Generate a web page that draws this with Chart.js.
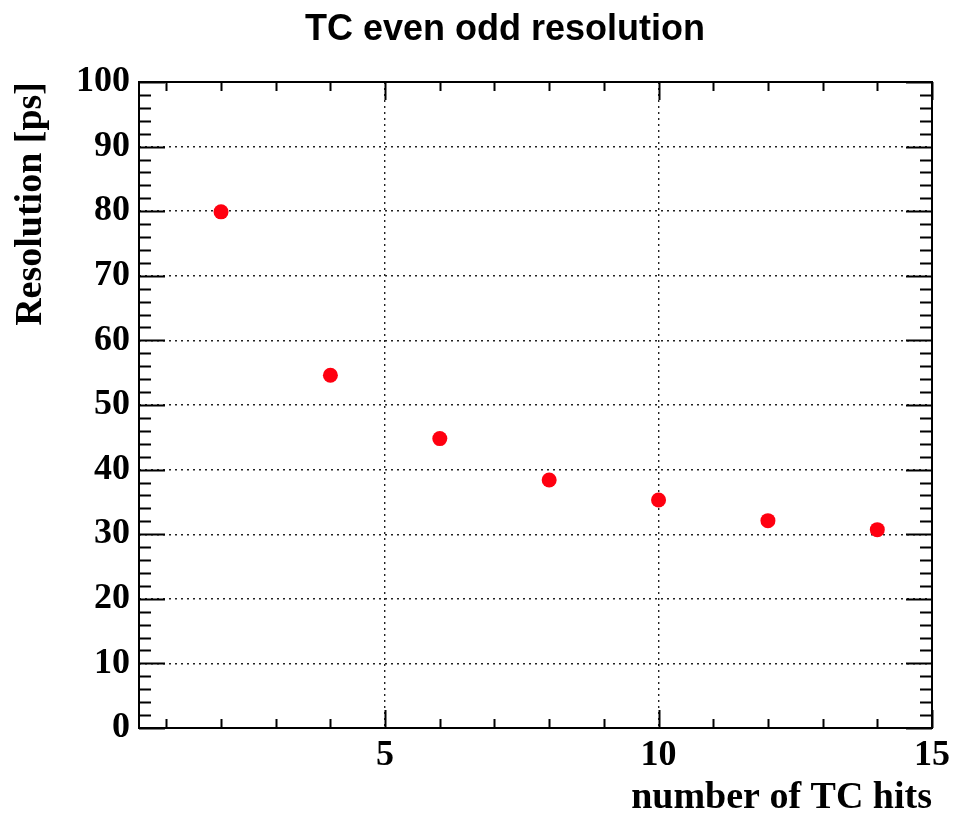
<!DOCTYPE html>
<html>
<head>
<meta charset="utf-8">
<title>TC even odd resolution</title>
<script src="https://cdn.jsdelivr.net/npm/chart.js@4.4.1/dist/chart.umd.min.js"></script>
<style>
  html, body { margin: 0; padding: 0; background: #fff; }
  #wrap { position: relative; width: 957px; height: 813px; }
</style>
</head>
<body>
<div id="wrap"><canvas id="resChart" width="957" height="813"></canvas></div>
<script>
// resolution vs number of TC hits
const nHits = [2, 4, 6, 8, 10, 12, 14];
const resolutionPs = [79.9, 54.6, 44.8, 38.4, 35.3, 32.1, 30.7];
const xTickValues = [5, 10, 15];
const yTickValues = [0, 10, 20, 30, 40, 50, 60, 70, 80, 90, 100];
const plotTitle = 'TC even odd resolution';

const serifBold = { family: '"Liberation Serif", "Times New Roman", serif', weight: 'bold' };

// ROOT-like frame: box plus inward ticks on all four sides, and the title
const rootFrame = {
  id: 'rootFrame',
  afterDraw(chart) {
    const { ctx, chartArea: a, scales: { x, y } } = chart;
    ctx.save();
    ctx.strokeStyle = '#000';
    ctx.lineWidth = 2;
    ctx.strokeRect(a.left, a.top, a.right - a.left, a.bottom - a.top);

    ctx.beginPath();
    for (let v = 0; v <= 100; v += 2) {
      const py = Math.round(y.getPixelForValue(v)) + 0.5;
      const len = v % 10 === 0 ? 26 : 12;
      ctx.moveTo(a.left, py); ctx.lineTo(a.left + len, py);
      ctx.moveTo(a.right, py); ctx.lineTo(a.right - len, py);
    }
    for (let v = 1; v <= 15; v++) {
      const px = Math.round(x.getPixelForValue(v)) + 0.5;
      const len = v % 5 === 0 ? 18 : 9;
      ctx.moveTo(px, a.bottom); ctx.lineTo(px, a.bottom - len);
      ctx.moveTo(px, a.top); ctx.lineTo(px, a.top + len);
    }
    ctx.lineWidth = 2;
    ctx.stroke();

    ctx.fillStyle = '#000';
    ctx.font = 'bold 36px "Liberation Sans", Arial, sans-serif';
    ctx.textAlign = 'center';
    ctx.textBaseline = 'alphabetic';
    ctx.fillText(plotTitle, 505, 40);
    ctx.restore();
  }
};

new Chart(document.getElementById('resChart'), {
  type: 'scatter',
  data: {
    datasets: [{
      label: 'resolution',
      data: nHits.map((h, i) => ({ x: h, y: resolutionPs[i] })),
      backgroundColor: '#ff0010',
      borderWidth: 0,
      pointRadius: 7.5,
      pointHoverRadius: 7.5
    }]
  },
  options: {
    responsive: false,
    animation: false,
    layout: { padding: { top: 82, right: 25, bottom: 0, left: 0 } },
    plugins: { legend: { display: false }, tooltip: { enabled: false }, title: { display: false } },
    scales: {
      x: {
        type: 'linear',
        min: 0.5,
        max: 15,
        afterBuildTicks: s => { s.ticks = xTickValues.map(v => ({ value: v })); },
        afterFit: s => { s.height = 85; },
        grid: { color: '#222', lineWidth: 1.4, drawTicks: false },
        border: { display: false, dash: [2, 4] },
        ticks: {
          color: '#000',
          padding: 6,
          maxRotation: 0,
          autoSkip: false,
          font: { ...serifBold, size: 36 },
          callback: v => String(v)
        },
        title: {
          display: true,
          text: 'number of TC hits',
          align: 'end',
          color: '#000',
          padding: { top: 0, bottom: 0 },
          font: { ...serifBold, size: 38, lineHeight: 0.8 }
        }
      },
      y: {
        min: 0,
        max: 100,
        afterBuildTicks: s => { s.ticks = yTickValues.map(v => ({ value: v })); },
        afterFit: s => { s.width = 139; },
        grid: { color: '#222', lineWidth: 1.4, drawTicks: false },
        border: { display: false, dash: [2, 4] },
        ticks: {
          color: '#000',
          padding: 9,
          font: { ...serifBold, size: 36 },
          callback: v => String(v)
        },
        title: {
          display: true,
          text: 'Resolution [ps]',
          align: 'end',
          color: '#000',
          padding: { top: 12, bottom: 0 },
          font: { ...serifBold, size: 38, lineHeight: 1 }
        }
      }
    }
  },
  plugins: [rootFrame]
});
</script>
</body>
</html>
